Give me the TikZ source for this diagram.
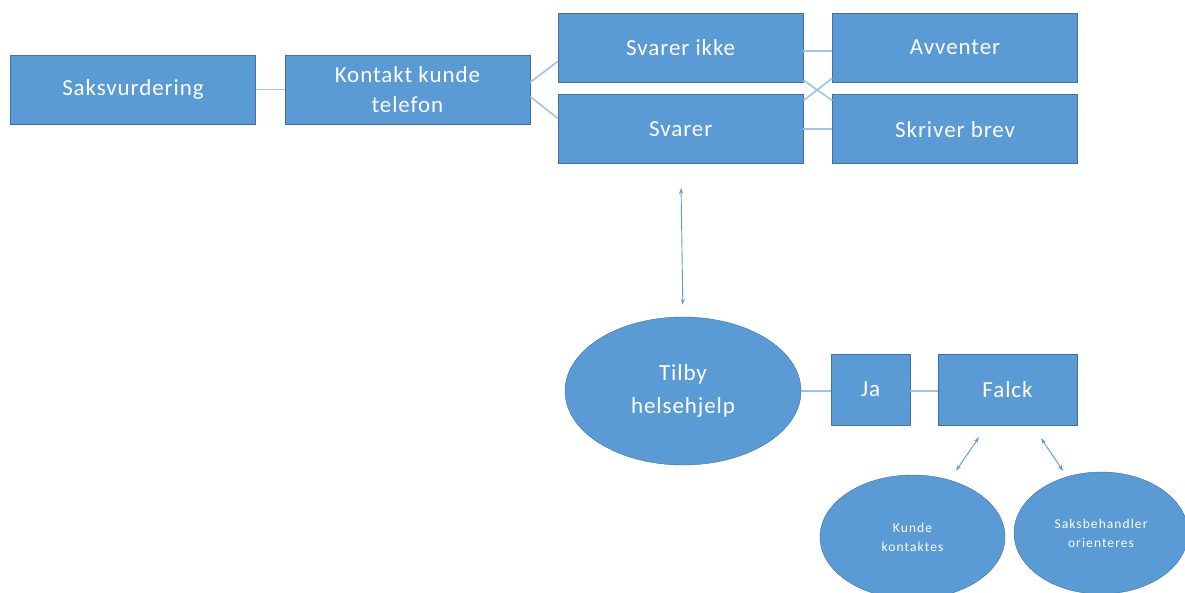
\documentclass[tikz,border=0pt]{standalone}
\usepackage{fontspec}
\setmainfont{Carlito}
\usetikzlibrary{positioning,shapes.geometric,arrows.meta}
\definecolor{boxfill}{HTML}{5B9BD5}
\definecolor{boxline}{HTML}{41719C}
\definecolor{linkblue}{HTML}{9DC3E6}
\definecolor{arrowblue}{HTML}{5B9BD5}
\tikzset{
  box/.style={draw=boxline,fill=boxfill,text=white,align=center,
    minimum width=245pt,minimum height=69pt,inner sep=0pt,
    font=\fontsize{23}{30}\selectfont\addfontfeatures{LetterSpace=4}},
  blob/.style={ellipse,draw=boxline,fill=boxfill,text=white,align=center,inner sep=0pt},
  small/.style={font=\fontsize{13.5}{19}\selectfont\addfontfeatures{LetterSpace=8}},
  link/.style={draw=linkblue,line width=1.6pt},
  both/.style={draw=arrowblue,line width=0.9pt,{Stealth[length=6pt,width=4pt]}-{Stealth[length=6pt,width=4pt]}}
}
\begin{document}
\begin{tikzpicture}[x=1pt,y=-1pt]
\useasboundingbox (0,0) rectangle (1185,592);
\clip (0,0) rectangle (1185,592);
\node [box] (saks) at (133,89.5) {Saksvurdering};
\node [box,right=29pt of saks] (kontakt) {Kontakt kunde\\telefon};
\node [box,anchor=north west] (ikke) at (558,13) {Svarer ikke};
\node [box,below=12pt of ikke] (svarer) {Svarer};
\node [box,right=29pt of ikke] (avv) {Avventer};
\node [box,right=29pt of svarer] (brev) {Skriver brev};
\node [blob,minimum width=236pt,minimum height=148pt,
  font=\fontsize{23}{33}\selectfont\addfontfeatures{LetterSpace=4}] (tilby) at (683,391) {Tilby\\helsehjelp};
\node [box,minimum width=79pt,minimum height=71pt] (ja) at (870.5,389.5) {Ja};
\node [box,minimum width=139pt,minimum height=71pt] (falck) at (1007.5,389.5) {Falck};
\node [blob,small,minimum width=185pt,minimum height=124pt] (kunde) at (912.5,537) {Kunde\\kontaktes};
\node [blob,small,minimum width=174pt,minimum height=122pt] (orient) at (1101,533) {Saksbehandler\\orienteres};
\draw [link] (saks.east) -- (kontakt.west);
\draw [link] ([yshift=7pt]kontakt.east) -- ([yshift=-13.5pt]ikke.west);
\draw [link] ([yshift=-7pt]kontakt.east) -- ([yshift=10.5pt]svarer.west);
\draw [link] ([yshift=-3pt]ikke.east) -- ([yshift=-3pt]avv.west);
\draw [link] ([yshift=-32.5pt]ikke.east) -- ([yshift=28.5pt]brev.west);
\draw [link] ([yshift=28.5pt]svarer.east) -- ([yshift=-30.5pt]avv.west);
\draw [link] (svarer.east) -- (brev.west);
\draw [both,shorten <=24pt,shorten >=12pt] (svarer.south) -- (tilby.north);
\draw [link] (tilby.east) -- (tilby.east -| ja.west);
\draw [link] (ja.east |- tilby.east) -- (tilby.east -| falck.west);
\draw [both] ([xshift=-28.5pt,yshift=-12pt]falck.south)
  -- ([xshift=43.5pt,yshift=4pt]kunde.north);
\draw [both] ([xshift=33.5pt,yshift=-13pt]falck.south)
  -- ([xshift=-38pt,yshift=1pt]orient.north);
\end{tikzpicture}
\end{document}
